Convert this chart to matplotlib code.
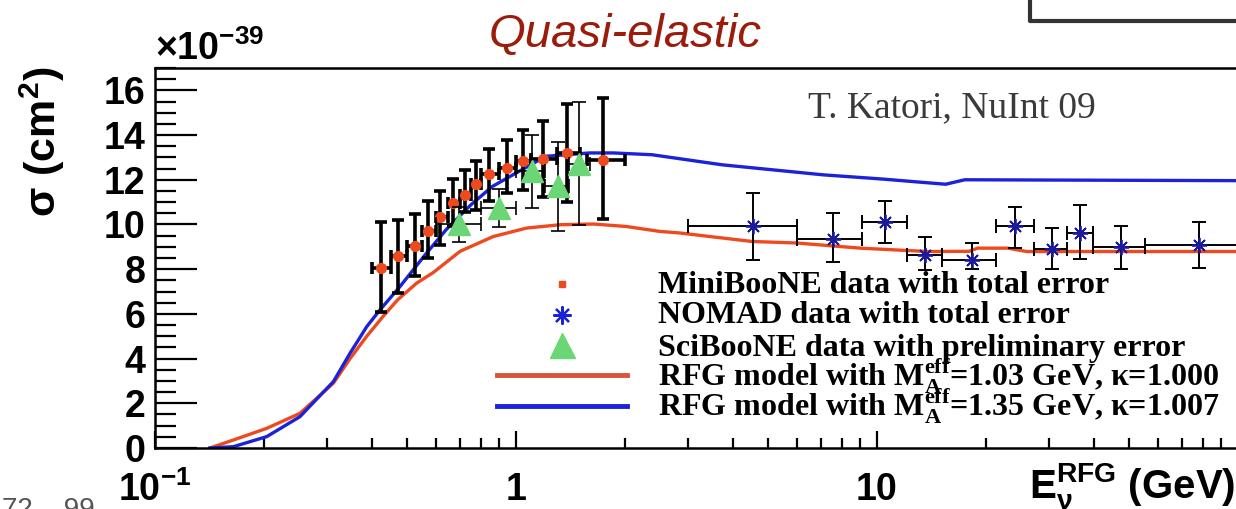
import matplotlib
matplotlib.use("Agg")
import matplotlib.pyplot as plt
from matplotlib.lines import Line2D
from matplotlib.ticker import FixedLocator, MultipleLocator, LogLocator, NullFormatter

# MiniBooNE (energy in GeV, sigma in 1e-39 cm^2)
mb_e = [0.422, 0.472, 0.525, 0.571, 0.616, 0.670, 0.722, 0.773, 0.842, 0.942, 1.048, 1.185, 1.387, 1.746]
mb_sig = [8.07, 8.57, 9.05, 9.69, 10.33, 10.96, 11.33, 11.81, 12.26, 12.52, 12.82, 12.93, 13.20, 12.90]
mb_hi = [10.13, 10.21, 10.48, 11.03, 11.48, 12.03, 12.45, 12.82, 13.38, 13.79, 14.24, 14.64, 15.40, 15.66]
mb_lo = [6.10, 6.93, 7.70, 8.49, 9.09, 9.94, 10.58, 10.66, 11.03, 11.40, 11.55, 11.21, 10.99, 10.24]
mb_elo = [0.40, 0.45, 0.50, 0.55, 0.60, 0.65, 0.70, 0.75, 0.80, 0.90, 1.0, 1.1, 1.3, 1.57]
mb_ehi = [0.45, 0.50, 0.55, 0.60, 0.65, 0.70, 0.75, 0.80, 0.90, 1.0, 1.1, 1.3, 1.5, 2.0]

# SciBooNE
sb_e = [0.695, 0.899, 1.105, 1.31, 1.498]
sb_sig = [10.0, 10.73, 12.37, 11.70, 12.72]
sb_err = [0.8, 0.86, 1.65, 2.0, 2.75]
sb_elo = [0.6, 0.8, 1.0, 1.2, 1.4]
sb_ehi = [0.8, 1.0, 1.2, 1.4, 1.6]

# NOMAD
nd_e = [4.53, 7.56, 10.5, 13.55, 18.3, 24.1, 30.5, 36.6, 47.3, 77.9]
nd_sig = [9.91, 9.36, 10.13, 8.64, 8.42, 9.94, 8.90, 9.64, 9.01, 9.06]
nd_hi = [11.43, 10.51, 11.06, 9.43, 9.17, 10.78, 9.84, 10.88, 9.91, 10.09]
nd_lo = [8.42, 8.34, 9.17, 7.97, 8.0, 8.94, 8.0, 8.46, 8.0, 8.05]
nd_elo = [2.99, 6.0, 9.07, 12.1, 15.1, 21.3, 27.2, 33.5, 39.6, 55.1]
nd_ehi = [6.0, 9.07, 12.1, 15.1, 21.3, 27.2, 33.5, 39.6, 55.1, 110]

# RFG model curves
red_e = [0.142, 0.165, 0.204, 0.252, 0.312, 0.347, 0.386, 0.429, 0.47, 0.531, 0.59, 0.70,
         0.865, 1.07, 1.33, 1.64, 2.02, 2.5, 2.84, 4.5, 6.0, 9.0, 13.8, 18.0, 19.0, 23.0, 26.0, 34.0, 100]
red_sig = [0.0, 0.36, 0.88, 1.55, 2.9, 4.0, 5.0, 5.9, 6.63, 7.38, 7.85, 8.8,
           9.46, 9.84, 9.99, 10.02, 9.91, 9.69, 9.62, 9.24, 9.17, 8.94, 8.79, 8.8, 8.94, 8.94, 8.79, 8.79, 8.79]
blue_e = [0.142, 0.165, 0.204, 0.252, 0.312, 0.347, 0.386, 0.42, 0.477, 0.56, 0.64, 0.75,
          0.86, 1.0, 1.21, 1.6, 1.86, 2.38, 3.72, 7.1, 10.4, 13.0, 15.5, 17.5, 100]
blue_sig = [0.0, 0.06, 0.51, 1.4, 2.97, 4.24, 5.43, 6.18, 7.22, 8.64, 9.76, 10.88,
            11.7, 12.3, 13.05, 13.2, 13.2, 13.12, 12.67, 12.22, 12.03, 11.9, 11.8, 12.0, 11.96]

legend_labels = [
    "MiniBooNE data with total error",
    "NOMAD data with total error",
    "SciBooNE data with preliminary error",
    r"RFG model with M$_{\mathsf{A}}^{\mathsf{eff}}$=1.03 GeV, κ=1.000",
    r"RFG model with M$_{\mathsf{A}}^{\mathsf{eff}}$=1.35 GeV, κ=1.007",
]

red = "#ee4a1f"
blue = "#1c22d8"
green = "#6ad676"

plt.rcParams["font.family"] = ["Liberation Sans", "DejaVu Sans"]
plt.rcParams["mathtext.fontset"] = "custom"
plt.rcParams["mathtext.rm"] = "Liberation Sans:bold"
plt.rcParams["mathtext.it"] = "Liberation Sans:bold"
plt.rcParams["mathtext.bf"] = "Liberation Sans:bold"
plt.rcParams["mathtext.sf"] = "Liberation Serif:bold"

fig = plt.figure(figsize=(12.36, 5.09), dpi=100)
ax = fig.add_axes([155 / 1236, 61 / 509, 1083 / 1236, 380 / 509])

ax.plot(red_e, red_sig, color=red, lw=2.4, zorder=2)
ax.plot(blue_e, blue_sig, color=blue, lw=2.4, zorder=2)

def asym(c, lo, hi):
    return [[a - b for a, b in zip(c, lo)], [b - a for a, b in zip(c, hi)]]

ax.errorbar(mb_e, mb_sig, xerr=asym(mb_e, mb_elo, mb_ehi), yerr=asym(mb_sig, mb_lo, mb_hi),
            fmt="o", ms=7, mfc=red, mec=red, ecolor="black", elinewidth=2.6,
            capsize=4, capthick=2.6, zorder=3)
ax.errorbar(sb_e, sb_sig, xerr=asym(sb_e, sb_elo, sb_ehi), yerr=sb_err,
            fmt="^", ms=16, mfc=green, mec=green, ecolor="black", elinewidth=1.2,
            capsize=5, capthick=1.2, zorder=4)
ax.errorbar(nd_e, nd_sig, xerr=asym(nd_e, nd_elo, nd_ehi), yerr=asym(nd_sig, nd_lo, nd_hi),
            fmt="none", ecolor="black", elinewidth=1.4, capsize=5, capthick=1.4, zorder=3)
ax.plot(nd_e, nd_sig, ls="none", marker=(8, 2, 0), ms=11, mec="#1a1a9a", mew=1.3, zorder=4)

ax.set_xscale("log")
ax.set_xlim(0.1, 100)
ax.set_ylim(0, 17)

ax.xaxis.set_major_locator(FixedLocator([0.1, 1, 10]))
ax.xaxis.set_minor_locator(LogLocator(base=10, subs=range(2, 10)))
ax.xaxis.set_minor_formatter(NullFormatter())
ax.set_xticklabels([r"10$^{-1}$", "1", "10"])
ax.yaxis.set_major_locator(MultipleLocator(2))
ax.yaxis.set_minor_locator(MultipleLocator(0.5))
ax.set_yticks(range(0, 17, 2))

ax.tick_params(axis="both", which="both", direction="in", width=1.6, colors="black",
               top=False, right=False)
ax.tick_params(axis="y", which="major", length=30, pad=7, labelsize=27)
ax.tick_params(axis="y", which="minor", length=15)
ax.tick_params(axis="x", which="major", length=12, pad=17, labelsize=27)
ax.tick_params(axis="x", which="minor", length=7)
for lab in ax.get_xticklabels() + ax.get_yticklabels():
    lab.set_fontweight("bold")
for sp in ax.spines.values():
    sp.set_linewidth(1.8)

ax.set_xlabel(r"E$_{\nu}^{\mathrm{RFG}}$ (GeV)", fontsize=29, fontweight="bold", ha="right", va="top")
ax.xaxis.set_label_coords(0.998, -0.035)

fig.text(42 / 1236, 1 - 142 / 509, r"σ (cm$^{2}$)", fontsize=31, fontweight="bold",
         rotation=90, ha="center", va="center")

# legend keys (ROOT-style), labels written next to them
handles = [
    Line2D([], [], ls="none", marker="s", ms=5, mfc=red, mec=red),
    Line2D([], [], ls="none", marker=(8, 2, 0), ms=13, mec=blue, mew=1.6),
    Line2D([], [], ls="none", marker="^", ms=18, mfc=green, mec=green),
    Line2D([], [], color="#d9553a", lw=3.5),
    Line2D([], [], color=blue, lw=3.5),
]
leg = ax.legend(handles, [""] * len(handles), loc="upper left", bbox_to_anchor=(0.3158, 0.462),
                frameon=False, fontsize=23, handlelength=4.08, handletextpad=0,
                labelspacing=0.01, borderpad=0, borderaxespad=0)
baselines = [293, 323, 356, 386, 415]
for lab, yb in zip(legend_labels, baselines):
    fig.text(658 / 1236, 1 - yb / 509, lab, fontsize=23, family="Liberation Serif",
             fontweight="bold", ha="left", va="baseline")

fig.text(625 / 1236, 1 - 35 / 509, "Quasi-elastic", fontsize=34, style="italic",
         color="#9c1c0c", ha="center", va="center")
fig.text(155 / 1236, 1 - 60 / 509, r"×10$^{-39}$", fontsize=27, fontweight="bold",
         ha="left", va="baseline")
fig.text(808 / 1236, 1 - 108 / 509, "T. Katori, NuInt 09", fontsize=27,
         family="Liberation Serif", color="#3a3a3a", ha="left", va="center")

# corner of the box that sits above the plot
fig.add_artist(Line2D([1030 / 1236, 1030 / 1236, 1.0], [1.0, 1 - 21 / 509, 1 - 21 / 509],
                      color="#333333", lw=3))
fig.text(2 / 1236, 1 - 497 / 509, "72    99", fontsize=20, color="#555555",
         ha="left", va="top")

fig.savefig("out.png", dpi=100)
